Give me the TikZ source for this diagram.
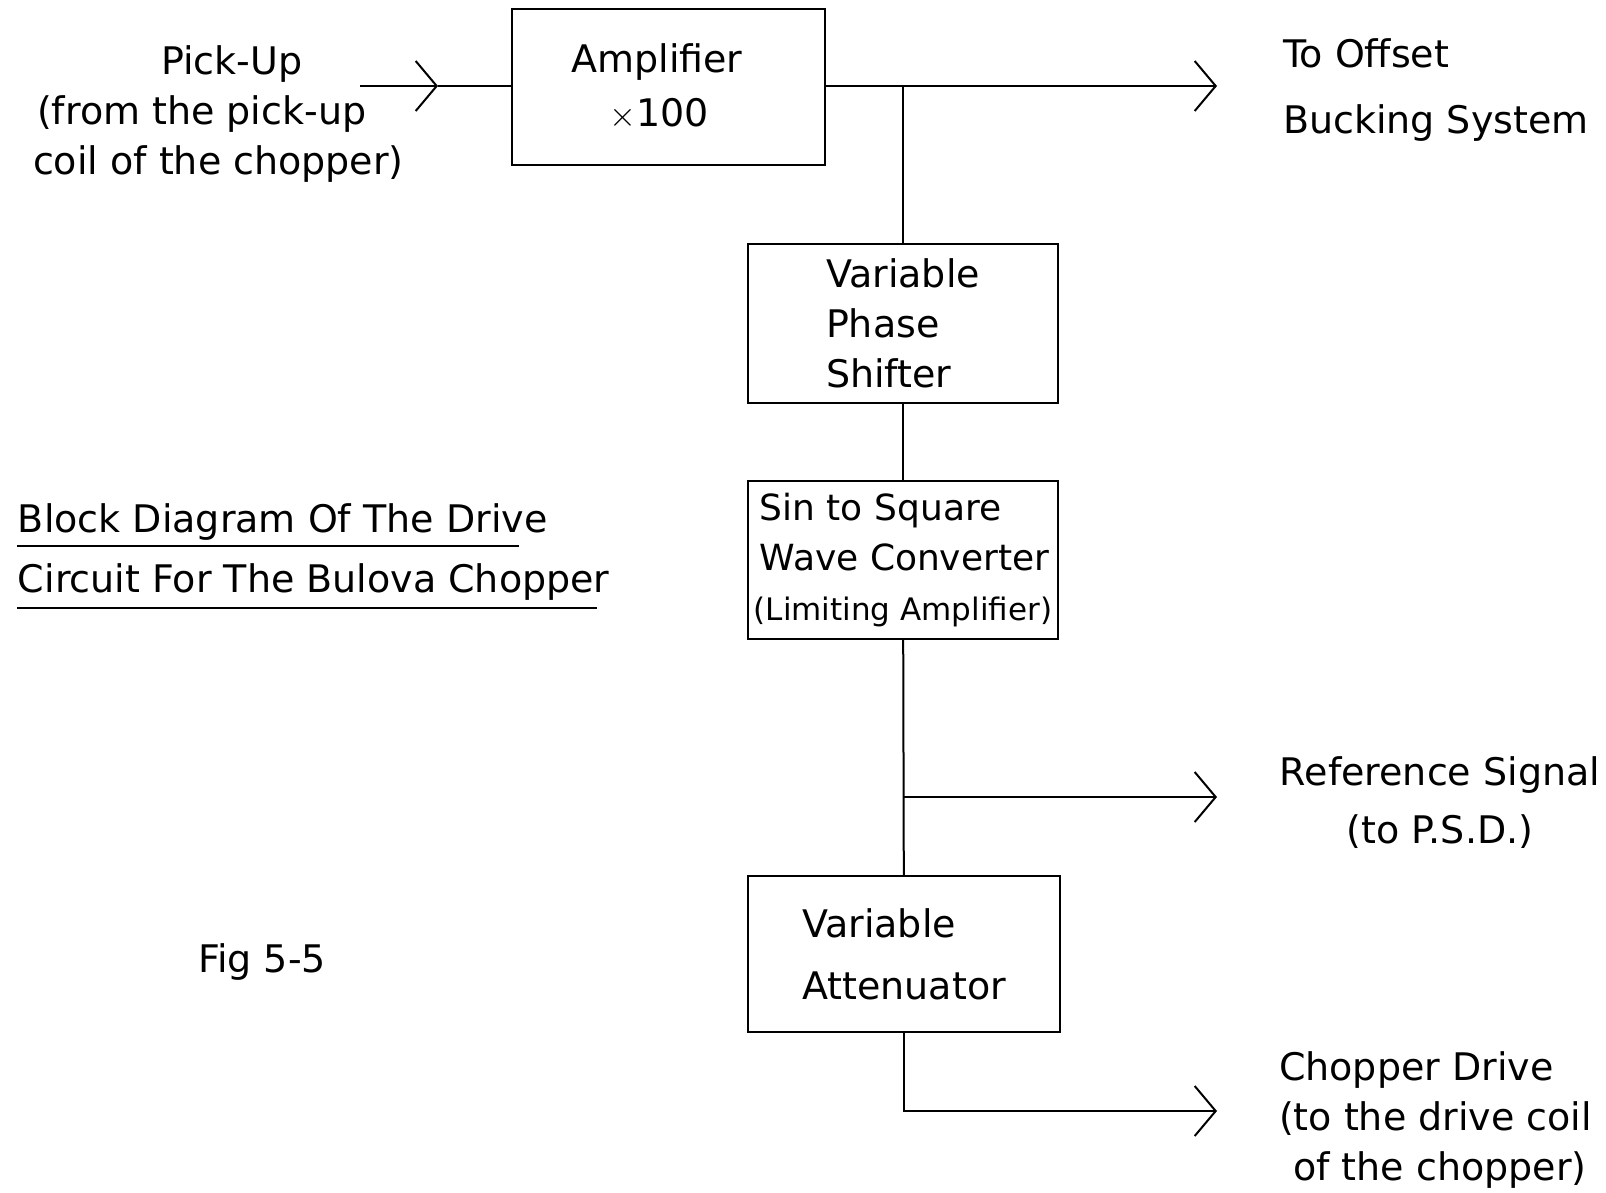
\documentclass[tikz,border=0pt]{standalone}
\usepackage{fontspec}
\setmainfont{DejaVu Sans}
\usetikzlibrary{arrows.meta}
\begin{document}
\begin{tikzpicture}[x=0.5pt, y=-0.5pt, line width=1pt,
  every node/.style={font=\fontsize{19}{25}\selectfont, inner sep=0pt},
  block/.style={draw, align=left, line width=1pt},
  >={Straight Barb[length=10.5pt, width=25pt, line width=1pt]}]
\useasboundingbox (0,0) rectangle (1606,1193);
% blocks
\node[block, align=center, minimum width=156.5pt, minimum height=78pt] (amp) at (668,87) {Amplifier\hspace*{11pt}\\[2pt]$\times$100\hspace*{9pt}};
\node[block, minimum width=155pt, minimum height=79.5pt] (shift) at (903,323.5) {Variable\\Phase\\Shifter};
\node[block, minimum width=155pt, minimum height=79pt, font=\fontsize{18}{25}\selectfont] (conv) at (903,560) {\hspace*{3pt}Sin to Square\\\hspace*{3pt}Wave Converter\\{\fontsize{15.5}{25}\selectfont(Limiting Amplifier)}};
\node[block, minimum width=156pt, minimum height=78pt] (atten) at (904,954) {Variable\\[6pt]Attenuator};
% labels
\node[align=left, anchor=west] (pick) at (32,114) {\hspace*{64pt}Pick-Up\\\hspace*{2pt}(from the pick-up\\coil of the chopper)};
\node[align=left, anchor=west] (offset) at (1282,90) {To Offset\\[8pt]Bucking System};
\node[align=center] (refsig) at (1440,803) {Reference Signal\\[4pt](to P.S.D.)};
\node[align=left, anchor=west] (chopdrv) at (1278,1120) {Chopper Drive\\(to the drive coil\\\hspace*{7pt}of the chopper)};
\node[anchor=base west] (title1) at (17,532) {Block Diagram Of The Drive};
\node[anchor=base west] (title2) at (17,592) {Circuit For The Bulova Chopper};
\node[anchor=base west] (fig) at (197,972) {Fig 5-5};
\draw (title1.base west) ++(0,14) -- ++(502,0);
\draw (title2.base west) ++(0,16) -- ++(580,0);
% connectors
\coordinate (in) at (360,86);
\coordinate (inarr) at (438,86);
\coordinate (off) at (1217,86);
\coordinate (ref) at (1217,797);
\coordinate (chop) at (1217,1111);
\draw[->] (in) -- (inarr);
\draw (inarr) -- (in -| amp.west);
\draw[->] (amp.east |- off) -- (off);
\draw (shift.north) -- (shift.north |- off);
\draw (shift) -- (conv);
\draw (conv) -- (atten);
\draw[->] (conv.south |- ref) -- (ref);
\draw[->] (atten.south) |- (chop);
\end{tikzpicture}
\end{document}
